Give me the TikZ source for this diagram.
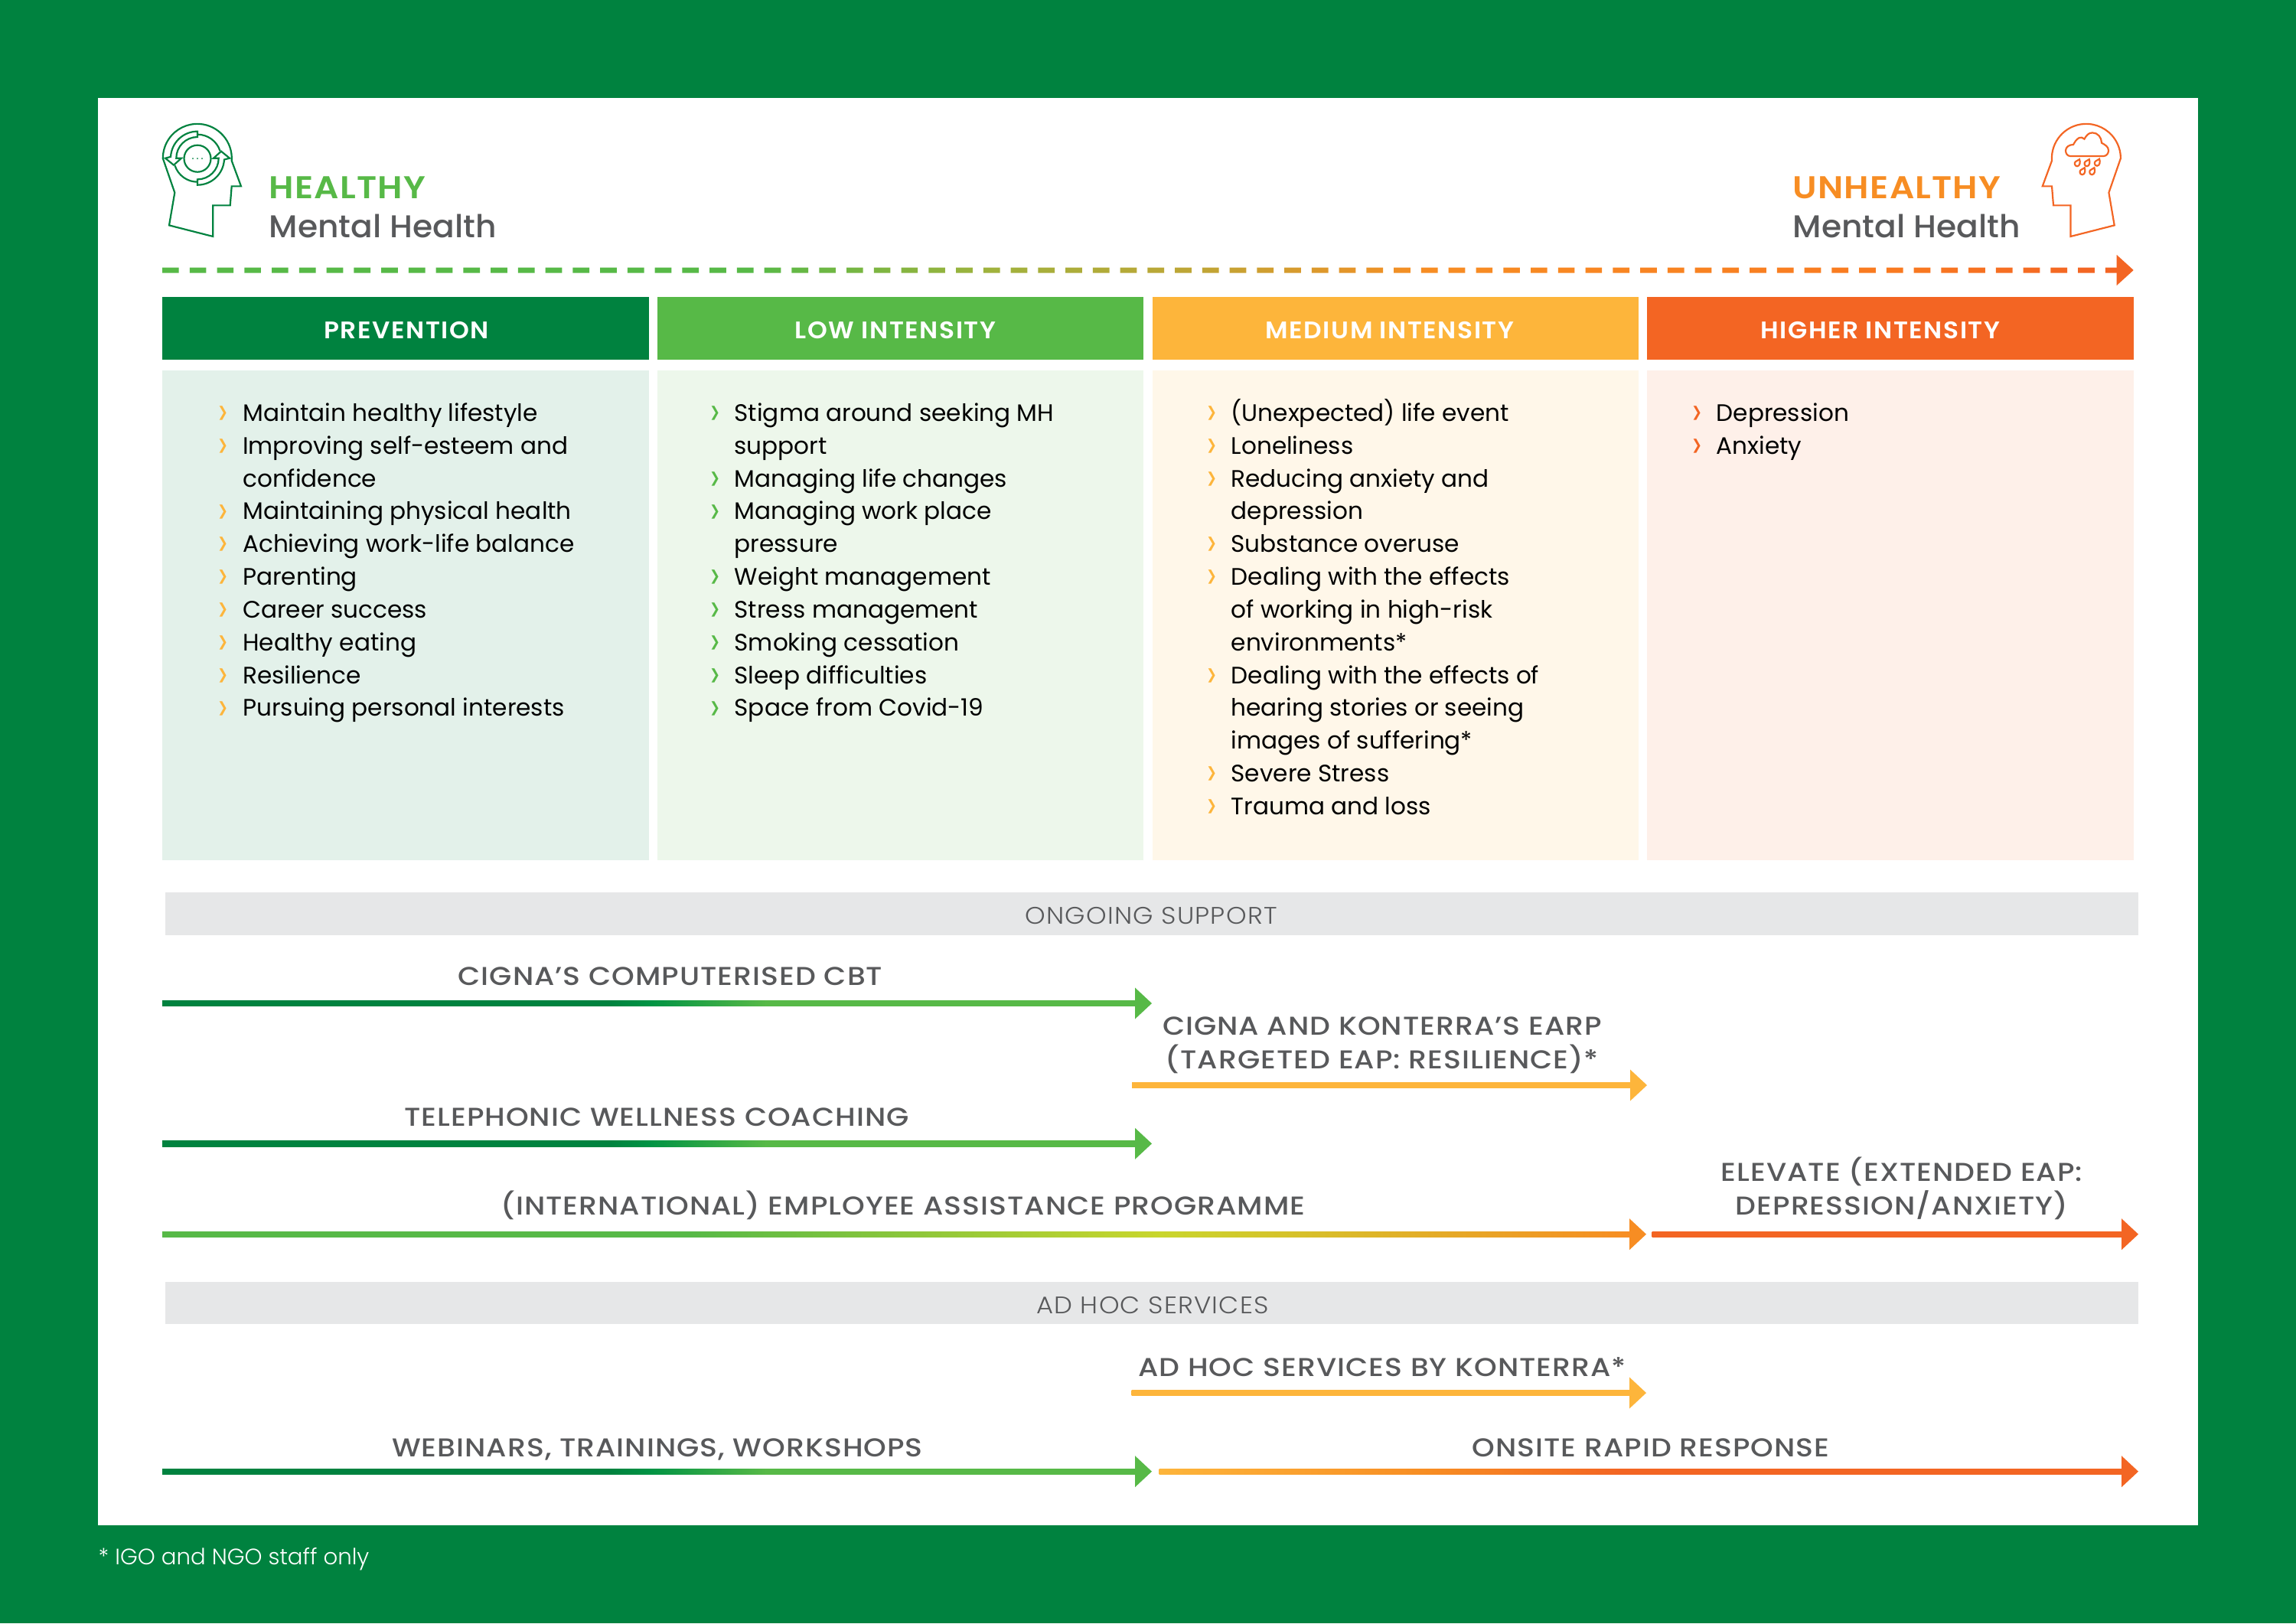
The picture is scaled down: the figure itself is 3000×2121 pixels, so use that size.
\documentclass[tikz,border=0pt]{standalone}
\usepackage{fontspec}
\setmainfont{Poppins}
\newfontfamily\lightfont{Poppins Light}
\newfontfamily\footfont{Poppins Light}
\newfontfamily\barfont[FakeStretch=1.08,LetterSpace=4]{Poppins Light}
\newfontfamily\labelfont[FakeStretch=1.12,LetterSpace=3]{Poppins Medium}
\newfontfamily\subfont[FakeStretch=1.03]{Poppins Medium}
\newfontfamily\semifont[FakeStretch=1.05,LetterSpace=5]{Poppins SemiBold}
\newfontfamily\titlefont[FakeStretch=1.1,LetterSpace=3]{Poppins SemiBold}
\usetikzlibrary{calc}
\definecolor{pagegreen}{HTML}{00823F}
\definecolor{leaf}{HTML}{57B947}
\definecolor{amber}{HTML}{FDB53B}
\definecolor{flame}{HTML}{F36523}
\definecolor{tang}{HTML}{F78D23}
\definecolor{ink}{HTML}{58595B}
\definecolor{barfill}{HTML}{E6E7E8}
\definecolor{brightgreen}{HTML}{009344}
\definecolor{limey}{HTML}{C9D62D}
\definecolor{olive}{HTML}{A0B23D}
\definecolor{gold}{HTML}{C0A535}
\definecolor{tangred}{HTML}{F97A20}
\pgfdeclarehorizontalshading{greenbar}{100bp}{color(0bp)=(pagegreen); color(48bp)=(pagegreen); color(50bp)=(brightgreen); color(56bp)=(leaf); color(100bp)=(leaf)}
\pgfdeclarehorizontalshading{ieapbar}{100bp}{color(0bp)=(leaf); color(43bp)=(leaf); color(59bp)=(limey); color(75bp)=(tang); color(100bp)=(tang)}
\pgfdeclarehorizontalshading{onsitebar}{100bp}{color(0bp)=(amber); color(25bp)=(amber); color(39bp)=(tang); color(49bp)=(flame); color(100bp)=(flame)}
\pgfdeclarehorizontalshading{dashbar}{100bp}{color(0bp)=(leaf); color(40bp)=(leaf); color(46bp)=(olive); color(51.4bp)=(gold); color(57bp)=(tang); color(69bp)=(tangred); color(74bp)=(flame); color(100bp)=(flame)}
\newcommand{\gradarrow}[4]{%
  \shade[#1] ($(#3)+(0,-3.7)$) rectangle ($(#4)+(-21,3.7)$);
  \fill[#2] ($(#4)+(-22,-20.5)$) -- (#4) -- ($(#4)+(-22,20.5)$) -- cycle;}
\newcommand{\bl}[1]{\llap{\raisebox{-1.5pt}{\lightfont\fontsize{15}{12}\selectfont\textcolor{#1}{›}}\hspace{5.3pt}}\rule{0pt}{9pt}}
\tikzset{
  headtext/.style={text=white,font=\semifont\fontsize{8.9}{11}\selectfont,inner sep=0pt,anchor=base},
  listtext/.style={text=black,font=\fontsize{8.85}{12.18}\selectfont,inner sep=0pt,anchor=north west,align=left},
  label/.style={text=ink,font=\labelfont\fontsize{9.6}{12.5}\selectfont,inner sep=0pt,anchor=base,align=center},
  bartext/.style={text=ink,font=\barfont\fontsize{8.9}{11}\selectfont,inner sep=0pt,anchor=base},
  titletext/.style={anchor=base west,inner sep=0pt,font=\titlefont\fontsize{11.7}{14}\selectfont},
  subtext/.style={anchor=base west,inner sep=0pt,text=ink,font=\subfont\fontsize{11.7}{14}\selectfont},
  icon/.style={line width=0.62pt,line join=miter}
}
\begin{document}
\begin{tikzpicture}[x=0.01cm,y=-0.01cm]
\useasboundingbox (0,0) rectangle (3000,2121);
\fill[pagegreen] (0,0) rectangle (3000,2121);
\fill[white] (128,128) rectangle (2872,1993);

% left head
\begin{scope}[shift={(258,206.7)},x=0.01cm,y=0.01cm,icon,draw=pagegreen]
  \draw (-37,-87.7) -- (20.3,-102.3) -- (20.3,-61.7) -- (42.7,-61.7) -- (44.7,-36.7) -- (57,-36.7) -- (44.7,-3.3)
    arc[start angle=-4,end angle=180,radius=45] -- (-29.7,-45) -- cycle;
  \draw (0,-0.5) circle[radius=17.5];
  \foreach \dx in {-6,0,6} \fill[pagegreen] (\dx,-0.5) circle[radius=1];
  \foreach \rot in {0,180} {
    \begin{scope}[rotate=\rot]
      \draw (0,-35) arc[start angle=-90,end angle=-3,radius=35] -- (42,0) -- (31,9) -- (21,0) -- (27.7,0)
        arc[start angle=0,end angle=-90,radius=27.7] -- cycle;
      \draw (0,31) arc[start angle=90,end angle=18,radius=31];
    \end{scope}
  }
\end{scope}

% right head
\begin{scope}[shift={(2725.7,206.7)},x=0.01cm,y=0.01cm,icon,draw=flame]
  \draw (37,-87.7) -- (-20.3,-102.3) -- (-20.3,-61.7) -- (-42.7,-61.7) -- (-44.7,-36.7) -- (-57,-36.7) -- (-44.7,-3.3)
    arc[start angle=184,end angle=0,radius=45] -- (29.7,-45) -- cycle;
  \draw (-20.7,2.7) -- (22.7,2.7) to[out=0,in=-90] (29.3,10) to[out=90,in=-30] (20.3,20)
    to[out=90,in=0] (8.3,33.3) to[out=180,in=60] (-2.3,25) to[out=140,in=30] (-9,26.7)
    to[out=210,in=60] (-16.7,17.7) to[out=180,in=90] (-26.7,10) to[out=-90,in=180] cycle;
  \foreach \dx/\dy in {-11.7/-7,1/-7,14.3/-6.5,-5/-18,7.7/-18} {
    \draw (\dx+3,\dy+5.5) .. controls (\dx+4.5,\dy+2) and (\dx+3.5,\dy-3.5) .. (\dx,\dy-3.5)
      .. controls (\dx-3.5,\dy-3.5) and (\dx-4,\dy+1.5) .. (\dx-2,\dy+2.5) -- cycle;
  }
\end{scope}

\node[titletext,text=leaf] (healthy) at (351,259) {HEALTHY};
\node[subtext] (healthyb) at (351,310) {Mental Health};
\node[titletext,text=tang] (unhealthy) at (2342,259) {UNHEALTHY};
\node[subtext] (unhealthyb) at (2342,310) {Mental Health};

% dashed scale
\begin{scope}
  \clip \foreach \i in {0,...,71} {(212+\i*35.76,349.5) rectangle (233.7+\i*35.76,356.5)};
  \shade[shading=dashbar] (212,349) rectangle (2788,357);
\end{scope}
\coordinate (scaletip) at (2787.7,353);
\fill[flame] ($(scaletip)+(-22,-20)$) -- (scaletip) -- ($(scaletip)+(-22,20)$) -- cycle;

% columns
\fill[pagegreen] (212,388) rectangle (848,470);
\fill[leaf] (859,388) rectangle (1494,470);
\fill[amber] (1506,388) rectangle (2141,470);
\fill[flame] (2152,388) rectangle (2788,470);
\fill[pagegreen!11] (212,484) rectangle (848,1124);
\fill[leaf!11] (859,484) rectangle (1494,1124);
\fill[amber!11] (1506,484) rectangle (2141,1124);
\fill[flame!10] (2152,484) rectangle (2788,1124);

\node[headtext] (prevhead) at (531,442) {PREVENTION};
\node[headtext] (lowhead) at (1170,442) {LOW INTENSITY};
\node[headtext] (medhead) at (1816,442) {MEDIUM INTENSITY};
\node[headtext] (highhead) at (2457,442) {HIGHER INTENSITY};

\node[listtext] (prevlist) at (316.5,518) {\bl{amber}Maintain healthy lifestyle\\
\bl{amber}Improving self-esteem and\\
confidence\\
\bl{amber}Maintaining physical health\\
\bl{amber}Achieving work-life balance\\
\bl{amber}Parenting\\
\bl{amber}Career success\\
\bl{amber}Healthy eating\\
\bl{amber}Resilience\\
\bl{amber}Pursuing personal interests};
\node[listtext] (lowlist) at (959,518) {\bl{leaf}Stigma around seeking MH\\
support\\
\bl{leaf}Managing life changes\\
\bl{leaf}Managing work place\\
pressure\\
\bl{leaf}Weight management\\
\bl{leaf}Stress management\\
\bl{leaf}Smoking cessation\\
\bl{leaf}Sleep difficulties\\
\bl{leaf}Space from Covid-19};
\node[listtext] (medlist) at (1608,518) {\bl{amber}(Unexpected) life event\\
\bl{amber}Loneliness\\
\bl{amber}Reducing anxiety and\\
depression\\
\bl{amber}Substance overuse\\
\bl{amber}Dealing with the effects\\
of working in high-risk\\
environments*\\
\bl{amber}Dealing with the effects of\\
hearing stories or seeing\\
images of suffering*\\
\bl{amber}Severe Stress\\
\bl{amber}Trauma and loss};
\node[listtext] (highlist) at (2242,518) {\bl{flame}Depression\\
\bl{flame}Anxiety};

% ongoing support
\fill[barfill] (216,1166) rectangle (2794,1222);
\node[bartext] (ongoing) at (1504,1207) {ONGOING SUPPORT};

\node[label] (cbt) at (876,1287) {CIGNA’S COMPUTERISED CBT};
\coordinate (cbtS) at (212,1311);
\coordinate (cbtE) at (1505,1311);
\gradarrow{shading=greenbar}{leaf}{cbtS}{cbtE}

\node[label] (earp) at (1806,1396) {CIGNA AND KONTERRA’S EARP\\(TARGETED EAP: RESILIENCE)*};
\coordinate (earpS) at (1479,1418);
\coordinate (earpE) at (2152,1418);
\gradarrow{left color=amber,right color=amber}{amber}{earpS}{earpE}

\node[label] (phone) at (858,1471) {TELEPHONIC WELLNESS COACHING};
\coordinate (phoneS) at (212,1494.3);
\coordinate (phoneE) at (1505,1494.3);
\gradarrow{shading=greenbar}{leaf}{phoneS}{phoneE}

\node[label] (ieap) at (1180,1587) {(INTERNATIONAL) EMPLOYEE ASSISTANCE PROGRAMME};
\coordinate (ieapS) at (212,1612.7);
\coordinate (ieapE) at (2151,1612.7);
\gradarrow{shading=ieapbar}{tang}{ieapS}{ieapE}

\node[label] (elevate) at (2485,1587) {ELEVATE (EXTENDED EAP:\\DEPRESSION/ANXIETY)};
\coordinate (elevateS) at (2158.5,1612.7);
\coordinate (elevateE) at (2794,1612.7);
\gradarrow{left color=flame,right color=flame}{flame}{elevateS}{elevateE}

% ad hoc services
\fill[barfill] (216,1675) rectangle (2794,1730);
\node[bartext] (adhoc) at (1506,1716) {AD HOC SERVICES};

\node[label] (konterra) at (1806,1798) {AD HOC SERVICES BY KONTERRA*};
\coordinate (konterraS) at (1478.6,1820);
\coordinate (konterraE) at (2151,1820);
\gradarrow{left color=amber,right color=amber}{amber}{konterraS}{konterraE}

\node[label] (webinars) at (859,1903) {WEBINARS, TRAININGS, WORKSHOPS};
\coordinate (webinarsS) at (212,1922.7);
\coordinate (webinarsE) at (1505,1922.7);
\gradarrow{shading=greenbar}{leaf}{webinarsS}{webinarsE}

\node[label] (onsite) at (2157,1903) {ONSITE RAPID RESPONSE};
\coordinate (onsiteS) at (1514.7,1922.7);
\coordinate (onsiteE) at (2794,1922.7);
\gradarrow{shading=onsitebar}{flame}{onsiteS}{onsiteE}

\node[anchor=base west,inner sep=0pt,text=white,font=\footfont\fontsize{8.3}{10}\selectfont] (foot) at (128,2044) {* IGO and NGO staff only};
\end{tikzpicture}
\end{document}
